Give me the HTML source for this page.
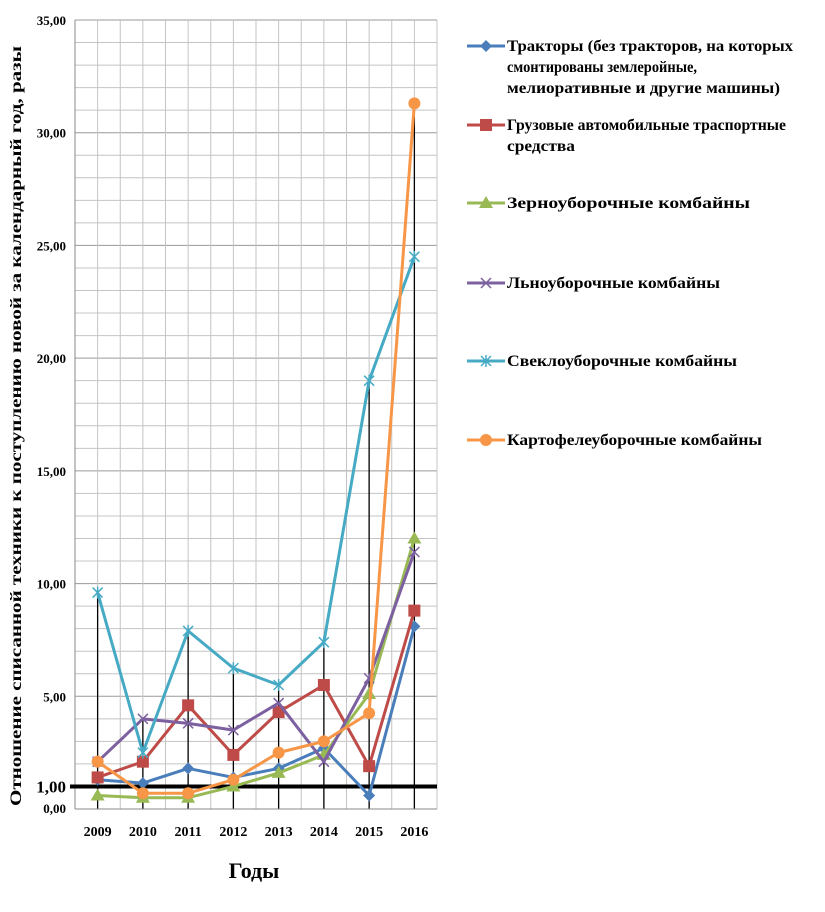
<!DOCTYPE html>
<html><head><meta charset="utf-8"><style>
body{margin:0;background:#fff;}
svg text{font-family:"Liberation Serif",serif;font-weight:bold;}
</style></head><body>
<svg id="chart" width="825" height="907" xmlns="http://www.w3.org/2000/svg">
<g id="grid"></g>
<g id="drops"></g>
<g id="axes"></g>
<g id="series"></g>
<g id="legend"></g>
<text x="254" y="878" font-size="22" text-anchor="middle">Годы</text>
<text transform="translate(21,426) rotate(-90)" font-size="16" text-anchor="middle" textLength="760" lengthAdjust="spacingAndGlyphs">Отношение списанной техники к поступлению новой за календарный год, разы</text>
</svg>
<script>
const years=["2009","2010","2011","2012","2013","2014","2015","2016"];
const tractors=[1.3,1.15,1.8,1.4,1.8,2.7,0.6,8.1];
const trucks=[1.4,2.1,4.6,2.4,4.3,5.5,1.9,8.8];
const grain=[0.6,0.5,0.5,1.0,1.6,2.4,5.1,12.0];
const flax=[2.1,4.0,3.8,3.5,4.7,2.1,5.8,11.4];
const beet=[9.6,2.5,7.9,6.25,5.5,7.4,19.0,24.5];
const potato=[2.1,0.7,0.7,1.3,2.5,3.0,4.25,31.3];
const yTicks=[0,5,10,15,20,25,30,35];
const yTickLabels=["0,00","5,00","10,00","15,00","20,00","25,00","30,00","35,00"];
const seriesNames=["Тракторы  (без тракторов, на которых|смонтированы землеройные,|мелиоративные и другие машины)","Грузовые автомобильные траспортные|средства","Зерноуборочные комбайны","Льноуборочные комбайны","Свеклоуборочные комбайны","Картофелеуборочные комбайны"];
const legLens=[[286,190,273],[279,68],[243],[213],[230],[255]];
const NS="http://www.w3.org/2000/svg";
const X0=75,X1=437,Y0=809,Y1=20;
function y(v){return Y0-(v/35)*(Y0-Y1);}
const step=(X1-X0)/8;
function x(i){return X0+step*(i+0.5);}
function mk(tag,attrs,parent){const e=document.createElementNS(NS,tag);for(const k in attrs)e.setAttribute(k,attrs[k]);parent.appendChild(e);return e;}
const grid=document.getElementById('grid'),axes=document.getElementById('axes'),drops=document.getElementById('drops'),ser=document.getElementById('series'),leg=document.getElementById('legend');
for(let v=0;v<=35;v++){const l=mk('line',{x1:X0,x2:X1,y1:y(v),y2:y(v),stroke:v%5==0?'#9a9a9a':'#c4c4c4','stroke-width':1},grid);

}
for(let i=0;i<=16;i++){const xx=X0+step*i/2;const l=mk('line',{x1:xx,x2:xx,y1:Y1,y2:Y0,stroke:'#c4c4c4','stroke-width':1},grid);

}
const all=[tractors,trucks,grain,flax,beet,potato];
years.forEach((yr,i)=>{const m=Math.max(...all.map(s=>s[i]));const l=mk('line',{x1:x(i),x2:x(i),y1:Y0,y2:y(m),stroke:'#000','stroke-width':1.3},drops);


const t=mk('text',{x:x(i),y:836,'font-size':14,'text-anchor':'middle'},axes);t.textContent=yr;

});
mk('line',{x1:X0,x2:X0,y1:Y1,y2:Y0,stroke:'#888'},axes);
mk('line',{x1:X0,x2:X1,y1:Y0,y2:Y0,stroke:'#888'},axes);
yTicks.forEach((v,k)=>{const t=mk('text',{x:66,y:y(v)+(v==0?4:5),'font-size':13,'text-anchor':'end'},axes);t.textContent=yTickLabels[k];

});
const ref=mk('line',{x1:X0-5,x2:X1,y1:y(1),y2:y(1),stroke:'#000','stroke-width':4},axes);


const rt=mk('text',{x:66,y:y(1)+6,'font-size':17,'text-anchor':'end'},axes);rt.textContent="1,00";


const colors=['#4a7ebb','#be4b48','#98b954','#7d60a0','#46aac5','#f79646'];
const markers=['diamond','square','triangle','x','star','circle'];
function marker(type,cx,cy,c,p){
 if(type=='diamond')return mk('path',{d:`M${cx} ${cy-6}L${cx+6} ${cy}L${cx} ${cy+6}L${cx-6} ${cy}Z`,fill:c},p);
 if(type=='square')return mk('rect',{x:cx-6,y:cy-6,width:12,height:12,fill:c},p);
 if(type=='triangle')return mk('path',{d:`M${cx} ${cy-7}L${cx+7} ${cy+5}L${cx-7} ${cy+5}Z`,fill:c},p);
 if(type=='circle')return mk('circle',{cx:cx,cy:cy,r:6,fill:c},p);
 const g=mk('g',{stroke:c,'stroke-width':1.5},p);
 mk('path',{d:`M${cx-5} ${cy-5}L${cx+5} ${cy+5}M${cx-5} ${cy+5}L${cx+5} ${cy-5}`+(type=='star'?`M${cx} ${cy-6}L${cx} ${cy+6}`:'')},g);return g;}
all.forEach((s,k)=>{const g=mk('g',{},ser);


const pl=mk('polyline',{points:s.map((v,i)=>x(i)+','+y(v)).join(' '),fill:'none',stroke:colors[k],'stroke-width':3,'stroke-linejoin':'round'},g);


s.forEach((v,i)=>{const m=marker(markers[k],x(i),y(v),colors[k],g);

});});
const legY=[46,125,203,283,361,440];
seriesNames.forEach((n,k)=>{const g=mk('g',{},leg);


mk('line',{x1:467,x2:505,y1:legY[k],y2:legY[k],stroke:colors[k],'stroke-width':3},g);
marker(markers[k],486,legY[k],colors[k],g);
n.split('|').forEach((ln,j)=>{const t=mk('text',{x:507,y:legY[k]+5+j*21,'font-size':16,textLength:legLens[k][j],lengthAdjust:'spacingAndGlyphs'},g);t.textContent=ln;});});
</script>
</body></html>
